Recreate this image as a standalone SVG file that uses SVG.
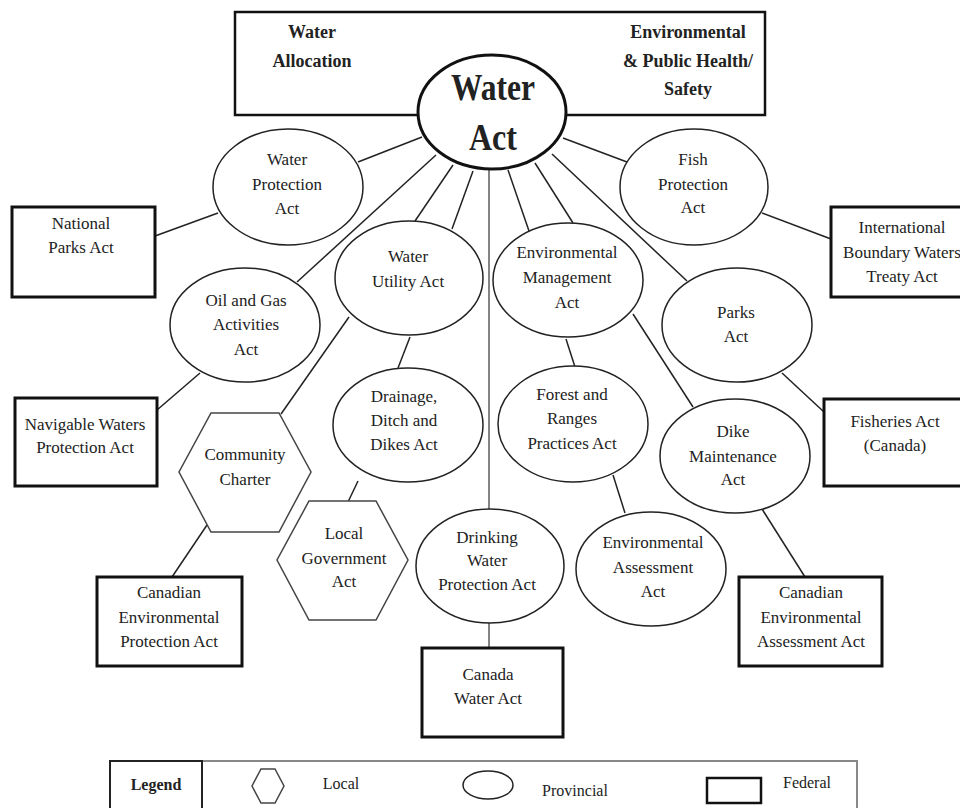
<svg xmlns="http://www.w3.org/2000/svg" width="960" height="808" viewBox="0 0 960 808">
<style>
text{font-family:"Liberation Serif","Times New Roman",serif;fill:#222;text-anchor:middle}
.t{font-size:17px}
.b{font-size:18px;font-weight:bold}
.lg{font-size:16px}
.con line{stroke:#222;stroke-width:1.5}
.con line.g{stroke:#777;stroke-width:1.8}
.prov{fill:#fff;stroke:#222;stroke-width:1.5}
.fed{fill:#fff;stroke:#111;stroke-width:3}
.loc{fill:#fff;stroke:#444;stroke-width:1.5}
</style>
<rect width="960" height="808" fill="#fff"/>

<g id="scope-box">
<rect x="235" y="12" width="530" height="103" fill="#fff" stroke="#111" stroke-width="2.5"/>
<text class="b" x="312" y="38">Water</text>
<text class="b" x="312" y="67">Allocation</text>
<text class="b" x="688" y="38">Environmental</text>
<text class="b" x="688" y="67">&amp; Public Health/</text>
<text class="b" x="688" y="95">Safety</text>
</g>

<g id="connectors" class="con">
<line x1="422" y1="137" x2="358" y2="162"/>
<line x1="563" y1="138" x2="627" y2="162"/>
<line x1="436" y1="155" x2="297" y2="282"/>
<line x1="453" y1="165" x2="415" y2="221"/>
<line x1="473" y1="171" x2="452" y2="229"/>
<line class="g" x1="489" y1="168" x2="489" y2="510"/>
<line x1="508" y1="170" x2="529" y2="231"/>
<line x1="535" y1="163" x2="573" y2="223"/>
<line x1="552" y1="154" x2="687" y2="281"/>
<line x1="218" y1="213" x2="155" y2="236"/>
<line x1="762" y1="213" x2="831" y2="239"/>
<line x1="200" y1="373" x2="157" y2="410"/>
<line x1="349" y1="317" x2="281" y2="414"/>
<line x1="410" y1="337" x2="398" y2="368"/>
<line x1="358" y1="481" x2="348" y2="502"/>
<line x1="207" y1="525" x2="172" y2="577"/>
<line x1="566" y1="339" x2="575" y2="367"/>
<line x1="633" y1="314" x2="693" y2="407"/>
<line x1="613" y1="475" x2="625" y2="513"/>
<line x1="782" y1="373" x2="824" y2="412"/>
<line x1="762" y1="509" x2="805" y2="577"/>
<line class="g" x1="489" y1="622" x2="489" y2="648"/>
</g>

<g id="water-act">
<ellipse cx="492" cy="112" rx="74" ry="57" fill="#fff" stroke="#111" stroke-width="3"/>
<text x="493" y="100" font-size="38" font-weight="bold" textLength="84" lengthAdjust="spacingAndGlyphs">Water</text>
<text x="493" y="150" font-size="38" font-weight="bold" textLength="48" lengthAdjust="spacingAndGlyphs">Act</text>
</g>

<g id="water-protection-act">
<ellipse class="prov" cx="288" cy="187" rx="75" ry="58"/>
<text class="t" x="287" y="165">Water</text>
<text class="t" x="287" y="190">Protection</text>
<text class="t" x="287" y="214">Act</text>
</g>

<g id="fish-protection-act">
<ellipse class="prov" cx="694" cy="187" rx="74" ry="58"/>
<text class="t" x="693" y="165">Fish</text>
<text class="t" x="693" y="190">Protection</text>
<text class="t" x="693" y="213">Act</text>
</g>

<g id="national-parks-act">
<rect class="fed" x="12" y="207" width="143" height="90"/>
<text class="t" x="81" y="229">National</text>
<text class="t" x="81" y="253">Parks Act</text>
</g>

<g id="international-boundary-waters-treaty-act">
<rect class="fed" x="831" y="207" width="143" height="90"/>
<text class="t" x="902" y="233">International</text>
<text class="t" x="902" y="258">Boundary Waters</text>
<text class="t" x="902" y="282">Treaty Act</text>
</g>

<g id="water-utility-act">
<ellipse class="prov" cx="409" cy="278" rx="74" ry="57"/>
<text class="t" x="408" y="262">Water</text>
<text class="t" x="408" y="287">Utility Act</text>
</g>

<g id="environmental-management-act">
<ellipse class="prov" cx="568" cy="280" rx="75" ry="57"/>
<text class="t" x="567" y="258">Environmental</text>
<text class="t" x="567" y="283">Management</text>
<text class="t" x="567" y="308">Act</text>
</g>

<g id="oil-and-gas-activities-act">
<ellipse class="prov" cx="245" cy="325" rx="75" ry="57"/>
<text class="t" x="246" y="306">Oil and Gas</text>
<text class="t" x="246" y="330">Activities</text>
<text class="t" x="246" y="355">Act</text>
</g>

<g id="parks-act">
<ellipse class="prov" cx="737" cy="325" rx="75" ry="57"/>
<text class="t" x="736" y="318">Parks</text>
<text class="t" x="736" y="342">Act</text>
</g>

<g id="navigable-waters-protection-act">
<rect class="fed" x="15" y="398" width="142" height="88"/>
<text class="t" x="85" y="430">Navigable Waters</text>
<text class="t" x="85" y="453">Protection Act</text>
</g>

<g id="fisheries-act">
<rect class="fed" x="824" y="399" width="143" height="87"/>
<text class="t" x="895" y="427">Fisheries Act</text>
<text class="t" x="895" y="451">(Canada)</text>
</g>

<g id="community-charter">
<polygon class="loc" points="211,413 279,413 311,472 279,532 211,532 179,472"/>
<text class="t" x="245" y="460">Community</text>
<text class="t" x="245" y="485">Charter</text>
</g>

<g id="drainage-ditch-and-dikes-act">
<ellipse class="prov" cx="408" cy="425" rx="75" ry="57"/>
<text class="t" x="404" y="402">Drainage,</text>
<text class="t" x="404" y="426">Ditch and</text>
<text class="t" x="404" y="450">Dikes Act</text>
</g>

<g id="forest-and-ranges-practices-act">
<ellipse class="prov" cx="573" cy="424" rx="75" ry="58"/>
<text class="t" x="572" y="400">Forest and</text>
<text class="t" x="572" y="424">Ranges</text>
<text class="t" x="572" y="449">Practices Act</text>
</g>

<g id="dike-maintenance-act">
<ellipse class="prov" cx="735" cy="456" rx="75" ry="57"/>
<text class="t" x="733" y="437">Dike</text>
<text class="t" x="733" y="462">Maintenance</text>
<text class="t" x="733" y="485">Act</text>
</g>

<g id="local-government-act">
<polygon class="loc" points="309,501 376,501 408,560 376,620 309,620 277,560"/>
<text class="t" x="344" y="539">Local</text>
<text class="t" x="344" y="564">Government</text>
<text class="t" x="344" y="587">Act</text>
</g>

<g id="drinking-water-protection-act">
<ellipse class="prov" cx="490" cy="566" rx="74" ry="57"/>
<text class="t" x="487" y="543">Drinking</text>
<text class="t" x="487" y="566">Water</text>
<text class="t" x="487" y="590">Protection Act</text>
</g>

<g id="environmental-assessment-act">
<ellipse class="prov" cx="651" cy="569" rx="75" ry="57"/>
<text class="t" x="653" y="548">Environmental</text>
<text class="t" x="653" y="573">Assessment</text>
<text class="t" x="653" y="597">Act</text>
</g>

<g id="canadian-environmental-protection-act">
<rect class="fed" x="97" y="577" width="145" height="89"/>
<text class="t" x="169" y="598">Canadian</text>
<text class="t" x="169" y="623">Environmental</text>
<text class="t" x="169" y="647">Protection Act</text>
</g>

<g id="canadian-environmental-assessment-act">
<rect class="fed" x="739" y="577" width="143" height="89"/>
<text class="t" x="811" y="598">Canadian</text>
<text class="t" x="811" y="623">Environmental</text>
<text class="t" x="811" y="647">Assessment Act</text>
</g>

<g id="canada-water-act">
<rect class="fed" x="422" y="648" width="141" height="89"/>
<text class="t" x="488" y="680">Canada</text>
<text class="t" x="488" y="704">Water Act</text>
</g>

<g id="legend">
<rect x="110" y="761" width="747" height="60" fill="#fff" stroke="#888" stroke-width="2"/>
<rect x="110" y="761" width="92" height="60" fill="none" stroke="#222" stroke-width="2"/>
<text x="156" y="790" font-size="16" font-weight="bold">Legend</text>
<polygon class="loc" points="261,769 275,769 284,786 275,803 261,803 252,786"/>
<text class="lg" x="341" y="789">Local</text>
<ellipse class="prov" cx="488" cy="785" rx="25" ry="14"/>
<text class="lg" x="575" y="796">Provincial</text>
<rect x="707" y="778" width="54" height="25" fill="#fff" stroke="#111" stroke-width="2.5"/>
<text class="lg" x="807" y="788">Federal</text>
</g>
</svg>
